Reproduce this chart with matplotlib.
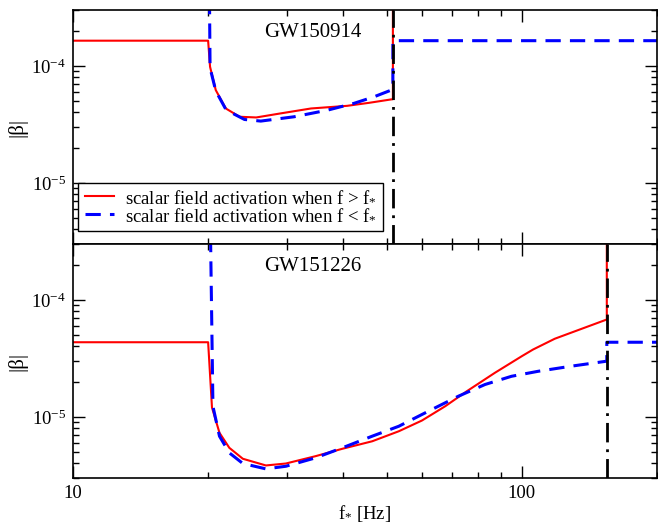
import numpy as np
import matplotlib
matplotlib.use("Agg")
import matplotlib.pyplot as plt
from matplotlib.ticker import LogLocator, NullFormatter, FuncFormatter

plt.rcParams['font.family'] = ['Liberation Serif', 'DejaVu Serif']
plt.rcParams['mathtext.fontset'] = 'custom'
plt.rcParams['mathtext.rm'] = 'Liberation Serif'
plt.rcParams['mathtext.it'] = 'Liberation Serif:italic'

BIG = 1e-2  # off the top of the plot

# GW150914 panel
f_cut_1 = 51.6
red_f_1 = [10, 20, 20.2, 20.8, 21.9, 23.5, 25.6, 29.0, 33.9, 40.8, 45.7, 51.6, 51.6]
red_b_1 = [1.64e-4, 1.64e-4, 9.8e-5, 6.2e-5, 4.32e-5, 3.67e-5, 3.62e-5, 3.92e-5,
           4.32e-5, 4.55e-5, 4.83e-5, 5.19e-5, BIG]
blue_f_1 = [20, 20.2, 20.8, 21.9, 22.9, 24.1, 26.2, 31.1, 36.9, 42.2, 46.8, 51.6, 51.6, 200]
blue_b_1 = [BIG, 9.6e-5, 6.1e-5, 4.25e-5, 3.85e-5, 3.48e-5, 3.37e-5, 3.67e-5,
            4.18e-5, 4.77e-5, 5.43e-5, 6.28e-5, 1.64e-4, 1.64e-4]

# GW151226 panel
f_cut_2 = 154.6
red_f_2 = [10, 20, 20.4, 21.2, 22.3, 23.9, 26.9, 29.8, 34.7, 39.8, 46.4, 53.2, 59.9,
           67.5, 75.4, 87.1, 100, 105.9, 118.4, 154.6, 154.6]
red_b_2 = [4.34e-5, 4.34e-5, 1.2e-5, 7.3e-6, 5.43e-6, 4.38e-6, 3.84e-6, 3.99e-6,
           4.61e-6, 5.33e-6, 6.18e-6, 7.53e-6, 9.3e-6, 1.232e-5, 1.655e-5, 2.38e-5,
           3.30e-5, 3.76e-5, 4.65e-5, 6.79e-5, BIG]
blue_f_2 = [20, 20.5, 21.2, 22.3, 23.9, 26.9, 29.8, 34.7, 39.8, 46.4, 53.2, 63.0, 72.2,
            82.8, 94.8, 108.7, 128.9, 154.6, 154.6, 200]
blue_b_2 = [BIG, 1.23e-5, 6.83e-6, 4.92e-6, 3.99e-6, 3.59e-6, 3.78e-6, 4.46e-6,
            5.43e-6, 6.83e-6, 8.31e-6, 1.155e-5, 1.50e-5, 1.89e-5, 2.22e-5, 2.45e-5,
            2.71e-5, 2.99e-5, 4.34e-5, 4.34e-5]

events = ['GW150914', 'GW151226']
legend_labels = [r'scalar field activation when f > f$_{\mathrm{*}}$',
                 r'scalar field activation when f < f$_{\mathrm{*}}$']

FS = 13.5


def sci(v, pos):
    e = int(np.round(np.log10(v)))
    return r'$\mathrm{10^{%d}}$' % e


def style_axes(ax, show_x):
    ax.set_xscale('log')
    ax.set_yscale('log')
    ax.set_xlim(10, 200)
    ax.set_ylim(3e-6, 3e-4)
    ax.xaxis.set_major_locator(LogLocator(base=10, numticks=10))
    ax.xaxis.set_minor_locator(LogLocator(base=10, subs=np.arange(2, 10), numticks=20))
    ax.yaxis.set_major_locator(LogLocator(base=10, numticks=10))
    ax.yaxis.set_minor_locator(LogLocator(base=10, subs=np.arange(2, 10), numticks=20))
    ax.xaxis.set_minor_formatter(NullFormatter())
    ax.yaxis.set_minor_formatter(NullFormatter())
    ax.yaxis.set_major_formatter(FuncFormatter(sci))
    if show_x:
        ax.xaxis.set_major_formatter(FuncFormatter(lambda v, p: '%d' % v))
    else:
        ax.xaxis.set_major_formatter(NullFormatter())
    ax.tick_params(which='both', direction='in', top=True, right=True,
                   labelsize=FS, width=1)
    ax.tick_params(which='major', length=8.5, pad=5)
    ax.tick_params(which='minor', length=4.5)
    for s in ax.spines.values():
        s.set_linewidth(1.2)
    ax.set_ylabel('|β|', fontsize=15, labelpad=3)


def draw_panel(ax, rf, rb, bf, bb, fcut, name):
    ax.plot(rf, rb, color='red', lw=1.5, label=legend_labels[0])
    ax.plot(bf, bb, color='blue', lw=2.2, ls=(0, (5, 3)), label=legend_labels[1])
    ax.axvline(fcut, color='black', lw=2, ls=(0, (7, 2.5, 1, 2.5)))
    ax.text(0.411, 0.905, name, transform=ax.transAxes, fontsize=15,
            ha='center', va='center')


fig = plt.figure(figsize=(6.58, 5.23), dpi=100)
ax1 = fig.add_axes([73 / 658, 1 - 244 / 523, 584 / 658, 234 / 523])
ax2 = fig.add_axes([73 / 658, 1 - 478 / 523, 584 / 658, 234 / 523])

draw_panel(ax1, red_f_1, red_b_1, blue_f_1, blue_b_1, f_cut_1, events[0])
draw_panel(ax2, red_f_2, red_b_2, blue_f_2, blue_b_2, f_cut_2, events[1])
style_axes(ax1, False)
style_axes(ax2, True)

ax2.set_xlabel(r'f$_{\mathrm{*}}$ [Hz]', fontsize=FS, labelpad=1)

leg = ax1.legend(loc='lower left', bbox_to_anchor=(0.0086, 0.056), borderaxespad=0,
                 fontsize=FS, fancybox=False, edgecolor='black', framealpha=1,
                 borderpad=0.35, labelspacing=0.05, handlelength=1.55,
                 handletextpad=0.6)
leg.get_frame().set_linewidth(1.0)

fig.savefig('out.png', dpi=100)
